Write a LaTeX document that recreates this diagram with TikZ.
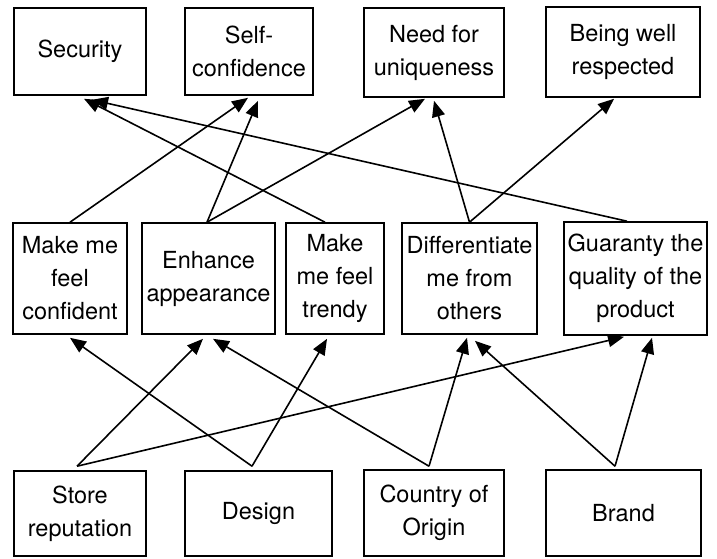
\documentclass[tikz,border=0pt]{standalone}
\usepackage{fontspec}
\setmainfont{TeX Gyre Heros}
\usetikzlibrary{arrows.meta,calc}
\begin{document}
\begin{tikzpicture}[x=1pt, y=-1pt,
	box/.style={draw, line width=1.6pt, inner sep=0pt, align=center, font=\fontsize{23.5}{33}\selectfont},
	arr/.style={line width=1.6pt, -{Triangle[length=16pt,width=13pt]}}]
	\useasboundingbox (0,0) rectangle (717,558);
	%values
		\node (sec) at (80,51.5) [box, minimum width=132pt, minimum height=87pt]{Security};
		\node (self) at (249,51.5) [box, minimum width=128pt, minimum height=87pt]{Self-\\confidence};
		\node (uniq) at (434,52.5) [box, minimum width=140pt, minimum height=89pt]{Need for\\uniqueness};
		\node (resp) at (623,52) [box, minimum width=154pt, minimum height=90pt]{Being well\\respected};
		
	%consequences
		\node (conf) at (70,278.5) [box, minimum width=114pt, minimum height=111pt]{Make me\\feel\\confident};
		\node (enh) at (208.5,278.5) [box, minimum width=133pt, minimum height=111pt]{Enhance\\appearance};
		\node (trendy) at (335,278.5) [box, minimum width=98pt, minimum height=111pt]{Make\\me feel\\trendy};
		\node (diff) at (469.5,278.5) [box, minimum width=135pt, minimum height=111pt]{Differentiate\\me from\\others};
		\node (qual) at (635.5,278.5) [box, minimum width=143pt, minimum height=113pt]{Guaranty the\\quality of the\\product};
		
	%attributes
		\node (store) at (80,513.5) [box, minimum width=132pt, minimum height=85pt]{Store\\reputation};
		\node (design) at (258.5,513.5) [box, minimum width=147pt, minimum height=85pt]{Design};
		\node (origin) at (434,513) [box, minimum width=140pt, minimum height=86pt]{Country of\\Origin};
		\node (brand) at (623.5,513) [box, minimum width=155pt, minimum height=86pt]{Brand};
		
	%attributes to consequences
		\draw[arr] ($(store.north)+(-3,-4)$) -- ($(enh.south)+(-5.5,4)$);
		\draw[arr] ($(store.north)+(-3,-4)$) -- ($(qual.south)+(-11.5,1)$);
		\draw[arr] ($(design.north)+(-6.5,-4)$) -- ($(conf.south)+(0,3)$);
		\draw[arr] ($(design.north)+(-6.5,-4)$) -- ($(trendy.south)+(-8,4)$);
		\draw[arr] ($(origin.north)+(-5,-3)$) -- ($(enh.south)+(4.5,4)$);
		\draw[arr] ($(origin.north)+(-5,-3)$) -- ($(diff.south)+(-2.5,3)$);
		\draw[arr] ($(brand.north)+(-8.5,-3)$) -- ($(diff.south)+(5.5,6)$);
		\draw[arr] ($(brand.north)+(-8.5,-3)$) -- ($(qual.south)+(16.5,2)$);
		
	%consequences to values
		\draw[arr] (conf.north) -- ($(self.south)+(-1,2)$);
		\draw[arr] ($(enh.north)+(-1.5,0)$) -- ($(self.south)+(9,5)$);
		\draw[arr] ($(enh.north)+(-1.5,0)$) -- ($(uniq.south)+(-9,1)$);
		\draw[arr] ($(trendy.north)+(-10,0)$) -- ($(sec.south)+(4,3)$);
		\draw[arr] (diff.north) -- ($(uniq.south)+(0,3)$);
		\draw[arr] (diff.north) -- ($(resp.south)+(-9,1)$);
		\draw[arr] ($(qual.north)+(-8.5,0)$) -- ($(sec.south)+(12,4)$);
\end{tikzpicture}
\end{document}
